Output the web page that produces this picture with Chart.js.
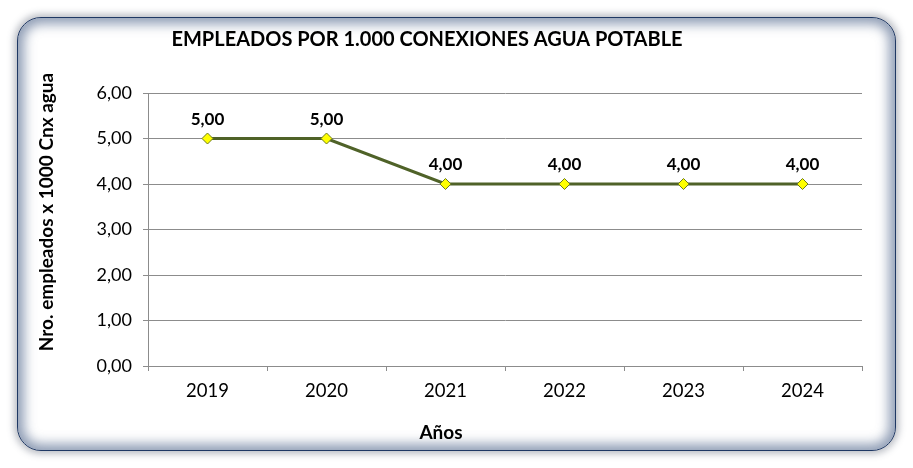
<!DOCTYPE html>
<html>
<head>
<meta charset="utf-8">
<script src="https://cdn.jsdelivr.net/npm/chart.js@4/dist/chart.umd.min.js"></script>
<style>
  html, body { margin: 0; padding: 0; background: #fff; }
  #wrap { position: relative; width: 913px; height: 468px; overflow: hidden; }
  #frame {
    position: absolute; left: 17px; top: 17px; width: 877px; height: 432px;
    border: 1px solid #1f3864; border-radius: 24px; background: #fff;
    box-shadow: 0 0 7px 3px rgba(60, 70, 90, 0.35), inset 0 0 12px 6px rgba(95, 115, 150, 0.7);
  }
  #chart { position: absolute; left: 0; top: 0; }
</style>
</head>
<body>
<div id="wrap">
  <div id="frame"></div>
  <canvas id="chart" width="913" height="468"></canvas>
</div>
<script>
// DATOS DEL GRAFICO
const years = ['2019', '2020', '2021', '2022', '2023', '2024'];
const employeesPer1000 = [5.00, 5.00, 4.00, 4.00, 4.00, 4.00];
const yTicks = [0, 1, 2, 3, 4, 5, 6];

const chartTitle = 'EMPLEADOS POR 1.000 CONEXIONES AGUA POTABLE';
const yTitle = 'Nro. empleados x 1000 Cnx agua';
const xTitle = 'Años';

const fmt = v => v.toFixed(2).replace('.', ',');
const FONT = 'Lato, "Open Sans", sans-serif';
const gridColor = '#8c8c8c';

// etiquetas de datos encima de cada punto
const pointLabels = {
    id: 'pointLabels',
    afterDatasetsDraw(chart) {
        const ctx = chart.ctx;
        const meta = chart.getDatasetMeta(0);
        ctx.save();
        ctx.font = 'bold 17px ' + FONT;
        ctx.fillStyle = '#000';
        ctx.textAlign = 'center';
        ctx.textBaseline = 'middle';
        meta.data.forEach((pt, i) => {
            ctx.fillText(fmt(employeesPer1000[i]), pt.x, pt.y - 19);
        });
        ctx.restore();
    }
};

// titulos (posicion como en el original de Excel)
const titles = {
    id: 'titles',
    afterDraw(chart) {
        const ctx = chart.ctx;
        ctx.save();
        ctx.fillStyle = '#000';
        ctx.textAlign = 'center';
        ctx.textBaseline = 'middle';
        ctx.font = 'bold 20px ' + FONT;
        ctx.fillText(chartTitle, 427, 40);
        ctx.font = 'bold 19px ' + FONT;
        ctx.fillText(xTitle, 441, 433);
        ctx.translate(47, 212);
        ctx.rotate(-Math.PI / 2);
        ctx.fillText(yTitle, 0, 0);
        ctx.restore();
    }
};

new Chart(document.getElementById('chart'), {
    type: 'line',
    data: {
        labels: years,
        datasets: [{
            data: employeesPer1000,
            borderColor: '#4f6228',
            borderWidth: 3,
            pointStyle: 'rectRot',
            pointRadius: 5.5,
            pointBackgroundColor: '#ffff00',
            pointBorderColor: '#6b7a1e',
            pointBorderWidth: 1,
            tension: 0
        }]
    },
    options: {
        responsive: false,
        animation: false,
        layout: { padding: { left: 0, right: 51, top: 93, bottom: 0 } },
        plugins: { legend: { display: false }, tooltip: { enabled: false } },
        scales: {
            x: {
                offset: true,
                afterFit: s => { s.height = 102; },
                grid: { offset: true, drawOnChartArea: false, color: gridColor, tickLength: 5 },
                border: { color: gridColor },
                ticks: { color: '#000', padding: 9, font: { family: FONT, size: 18.5 } }
            },
            y: {
                min: 0,
                max: 6,
                afterFit: s => { s.width = 148; },
                afterBuildTicks: s => { s.ticks = yTicks.map(v => ({ value: v })); },
                grid: { color: gridColor, tickLength: 5 },
                border: { color: gridColor },
                ticks: { color: '#000', padding: 11, font: { family: FONT, size: 18 }, callback: v => fmt(v) }
            }
        }
    },
    plugins: [pointLabels, titles]
});
</script>
</body>
</html>
